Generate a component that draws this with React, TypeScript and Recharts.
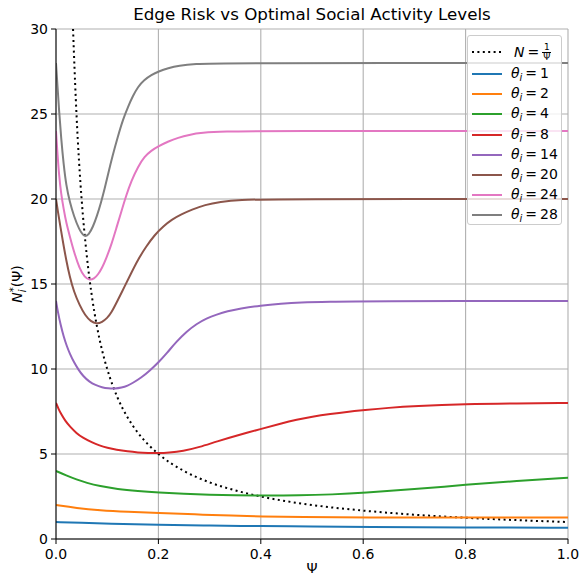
import { LineChart, Line, XAxis, YAxis, CartesianGrid } from 'recharts';

// Ψ values and N* values, one list per θ_i
const inverse = [
  [0.0333, 30], [0.035, 28.6], [0.04, 25], [0.045, 22.2], [0.05, 20], [0.06, 16.7], [0.07, 14.3],
  [0.08, 12.5], [0.09, 11.1], [0.1, 10], [0.12, 8.33], [0.14, 7.14], [0.16, 6.25], [0.18, 5.56],
  [0.2, 5], [0.25, 4], [0.3, 3.33], [0.35, 2.86], [0.4, 2.5], [0.5, 2], [0.6, 1.67], [0.7, 1.43],
  [0.8, 1.25], [0.9, 1.11], [1.0, 1],
];
const theta1 = [
  [0, 1], [0.05, 0.95], [0.1, 0.9], [0.2, 0.84], [0.3, 0.79], [0.4, 0.76], [0.5, 0.73],
  [0.6, 0.71], [0.8, 0.68], [1, 0.66],
];
const theta2 = [
  [0, 2], [0.04, 1.82], [0.085, 1.69], [0.14, 1.6], [0.2, 1.53], [0.27, 1.45], [0.346, 1.37],
  [0.4, 1.33], [0.476, 1.29], [0.6, 1.27], [0.8, 1.26], [1, 1.26],
];
const theta4 = [
  [0, 4], [0.02, 3.74], [0.04, 3.5], [0.06, 3.3], [0.085, 3.11], [0.12, 2.93], [0.16, 2.82],
  [0.2, 2.74], [0.25, 2.66], [0.3, 2.6], [0.35, 2.565], [0.4, 2.55], [0.476, 2.56], [0.54, 2.62],
  [0.6, 2.71], [0.7, 2.93], [0.8, 3.19], [0.9, 3.42], [1, 3.6],
];
const theta8 = [
  [0, 8], [0.005, 7.65], [0.01, 7.35], [0.018, 6.95], [0.027, 6.62], [0.04, 6.22], [0.053, 5.94],
  [0.07, 5.68], [0.085, 5.5], [0.1, 5.37], [0.118, 5.25], [0.14, 5.15], [0.16, 5.09], [0.18, 5.06],
  [0.2, 5.05], [0.22, 5.08], [0.248, 5.17], [0.28, 5.4], [0.314, 5.74], [0.355, 6.1], [0.4, 6.47],
  [0.44, 6.8], [0.47, 7.02], [0.5, 7.2], [0.535, 7.36], [0.574, 7.5], [0.6, 7.58], [0.65, 7.72],
  [0.7, 7.82], [0.8, 7.94], [0.9, 7.98], [1, 8],
];
const theta14 = [
  [0, 14], [0.004, 13.3], [0.009, 12.6], [0.015, 11.9], [0.021, 11.35], [0.027, 10.9], [0.035, 10.4],
  [0.044, 9.95], [0.053, 9.58], [0.065, 9.25], [0.077, 9.05], [0.09, 8.92], [0.102, 8.86],
  [0.115, 8.84], [0.128, 8.9], [0.14, 9.02], [0.15, 9.18], [0.167, 9.5], [0.183, 9.9], [0.2, 10.38],
  [0.217, 10.95], [0.235, 11.6], [0.255, 12.2], [0.2745, 12.65], [0.294, 12.98], [0.3136, 13.2],
  [0.335, 13.4], [0.359, 13.55], [0.4, 13.74], [0.44, 13.85], [0.476, 13.92], [0.535, 13.96],
  [0.6, 13.99], [1, 14],
];
const theta20 = [
  [0, 20], [0.004, 19.2], [0.009, 18.3], [0.014, 17.4], [0.02, 16.4], [0.027, 15.4], [0.035, 14.55],
  [0.046, 13.75], [0.057, 13.15], [0.068, 12.8], [0.079, 12.65], [0.09, 12.75], [0.1, 13.0],
  [0.108, 13.3], [0.12, 14.0], [0.134, 14.86], [0.147, 15.65], [0.16, 16.43], [0.176, 17.2],
  [0.193, 17.9], [0.21, 18.4], [0.2256, 18.78], [0.245, 19.1], [0.265, 19.37], [0.291, 19.66],
  [0.32, 19.83], [0.36, 19.95], [0.42, 20], [1, 20],
];
const theta24 = [
  [0, 24], [0.003, 22.6], [0.006, 21.4], [0.01, 20.3], [0.015, 19.4], [0.02, 18.6], [0.027, 17.8],
  [0.035, 16.9], [0.046, 15.9], [0.056, 15.4], [0.066, 15.22], [0.074, 15.3], [0.082, 15.55],
  [0.09, 15.95], [0.098, 16.5], [0.108, 17.3], [0.118, 18.3], [0.128, 19.3], [0.137, 20.2],
  [0.147, 21.05], [0.16, 21.9], [0.173, 22.5], [0.186, 22.85], [0.2, 23.1], [0.22, 23.4],
  [0.238, 23.6], [0.26, 23.78], [0.284, 23.9], [0.33, 23.97], [0.4, 24], [1, 24],
];
const theta28 = [
  [0, 28], [0.003, 26.6], [0.006, 25.2], [0.01, 23.6], [0.015, 22.0], [0.02, 20.8], [0.027, 19.8],
  [0.035, 19.0], [0.045, 18.2], [0.056, 17.75], [0.064, 17.9], [0.072, 18.35], [0.08, 19.0],
  [0.088, 19.8], [0.095, 20.6], [0.102, 21.5], [0.11, 22.5], [0.121, 23.7], [0.131, 24.7],
  [0.141, 25.45], [0.15, 26.05], [0.16, 26.6], [0.172, 27.0], [0.1865, 27.3], [0.2, 27.5],
  [0.219, 27.7], [0.24, 27.85], [0.271, 27.95], [0.32, 28], [1, 28],
];

const xTicks = [0, 0.2, 0.4, 0.6, 0.8, 1.0];
const yTicks = [0, 5, 10, 15, 20, 25, 30];

const series = [
  { name: '1', values: theta1, color: '#1f77b4' },
  { name: '2', values: theta2, color: '#ff7f0e' },
  { name: '4', values: theta4, color: '#2ca02c' },
  { name: '8', values: theta8, color: '#d62728' },
  { name: '14', values: theta14, color: '#9467bd' },
  { name: '20', values: theta20, color: '#8c564b' },
  { name: '24', values: theta24, color: '#e377c2' },
  { name: '28', values: theta28, color: '#7f7f7f' },
];

const toPoints = (arr: number[][]) => arr.map(([x, y]) => ({ x, y }));

const font = '"DejaVu Sans", sans-serif';
const tickStyle = { fontSize: 14, fill: '#000', fontFamily: font };

const LegendBox = () => (
  <div
    style={{
      position: 'absolute', left: 467, top: 35, width: 95, height: 190,
      background: 'rgba(255,255,255,0.8)', border: '1px solid #cccccc', borderRadius: 3,
      boxSizing: 'border-box', fontFamily: font, fontSize: 14, color: '#000',
    }}
  >
    <div style={{ position: 'absolute', left: 4, top: 6, height: 20, display: 'flex', alignItems: 'center' }}>
      <svg width={30} height={4}><line x1={0} y1={2} x2={30} y2={2} stroke="#000" strokeWidth={2} strokeDasharray="2 3.4" /></svg>
      <span style={{ marginLeft: 12, display: 'flex', alignItems: 'center' }}>
        <i>N</i>
        <span style={{ margin: '0 3px' }}>=</span>
        <span style={{ display: 'inline-flex', flexDirection: 'column', alignItems: 'center', fontSize: 9, lineHeight: '9px' }}>
          <span>1</span>
          <span style={{ borderTop: '1px solid #000', padding: '0 1px' }}>Ψ</span>
        </span>
      </span>
    </div>
    {series.map((s, i) => (
      <div key={s.name} style={{ position: 'absolute', left: 4, top: 28 + i * 20.2, height: 20, display: 'flex', alignItems: 'center' }}>
        <svg width={30} height={4}><line x1={0} y1={2} x2={30} y2={2} stroke={s.color} strokeWidth={2} /></svg>
        <span style={{ marginLeft: 9, whiteSpace: 'nowrap' }}>
          <i>θ</i><sub style={{ fontSize: 10, fontStyle: 'italic', verticalAlign: '-3px' }}>i</sub>
          <span style={{ margin: '0 3px' }}>=</span>{s.name}
        </span>
      </div>
    ))}
  </div>
);

export default function App() {
  return (
    <div style={{ position: 'absolute', left: 0, top: 0, width: 581, height: 577, background: '#fff', fontFamily: font }}>
      <div style={{ position: 'absolute', left: 56, width: 512, top: 4, textAlign: 'center', fontSize: 16.7 }}>
        Edge Risk vs Optimal Social Activity Levels
      </div>
      <LineChart width={581} height={577} margin={{ top: 29, right: 13, bottom: 8, left: 10 }}>
        <CartesianGrid stroke="#b0b0b0" strokeWidth={1.1} />
        <XAxis
          type="number" dataKey="x" domain={[0, 1]} ticks={xTicks} height={30}
          tickFormatter={(v) => v.toFixed(1)} tick={tickStyle} tickMargin={5}
          stroke="#000" tickSize={5} allowDataOverflow
        />
        <XAxis xAxisId="top" orientation="top" type="number" domain={[0, 1]} height={0} tick={false} tickLine={false} stroke="#000" />
        <YAxis
          type="number" dataKey="y" domain={[0, 30]} ticks={yTicks} width={46}
          tick={tickStyle} tickMargin={3} stroke="#000" tickSize={5} allowDataOverflow
        />
        <YAxis yAxisId="right" orientation="right" domain={[0, 30]} width={0} tick={false} tickLine={false} stroke="#000" />
        <Line
          data={toPoints(inverse)} dataKey="y" type="monotone" stroke="#000" strokeWidth={2}
          strokeDasharray="2 3.4" dot={false} isAnimationActive={false}
        />
        {series.map((s) => (
          <Line
            key={s.name} data={toPoints(s.values)} dataKey="y" type="basis"
            stroke={s.color} strokeWidth={2} dot={false} isAnimationActive={false}
          />
        ))}
      </LineChart>
      <LegendBox />
      <div style={{ position: 'absolute', left: 302, top: 560, width: 20, textAlign: 'center', fontSize: 14 }}>Ψ</div>
      <div
        style={{
          position: 'absolute', left: 18, top: 284, transform: 'translate(-50%, -50%) rotate(-90deg)',
          fontSize: 14, whiteSpace: 'nowrap',
        }}
      >
        <i>N</i>
        <span style={{ display: 'inline-flex', flexDirection: 'column', verticalAlign: 'middle', fontSize: 10, lineHeight: '9px', fontStyle: 'italic' }}>
          <span>*</span>
          <span>i</span>
        </span>
        (Ψ)
      </div>
    </div>
  );
}
